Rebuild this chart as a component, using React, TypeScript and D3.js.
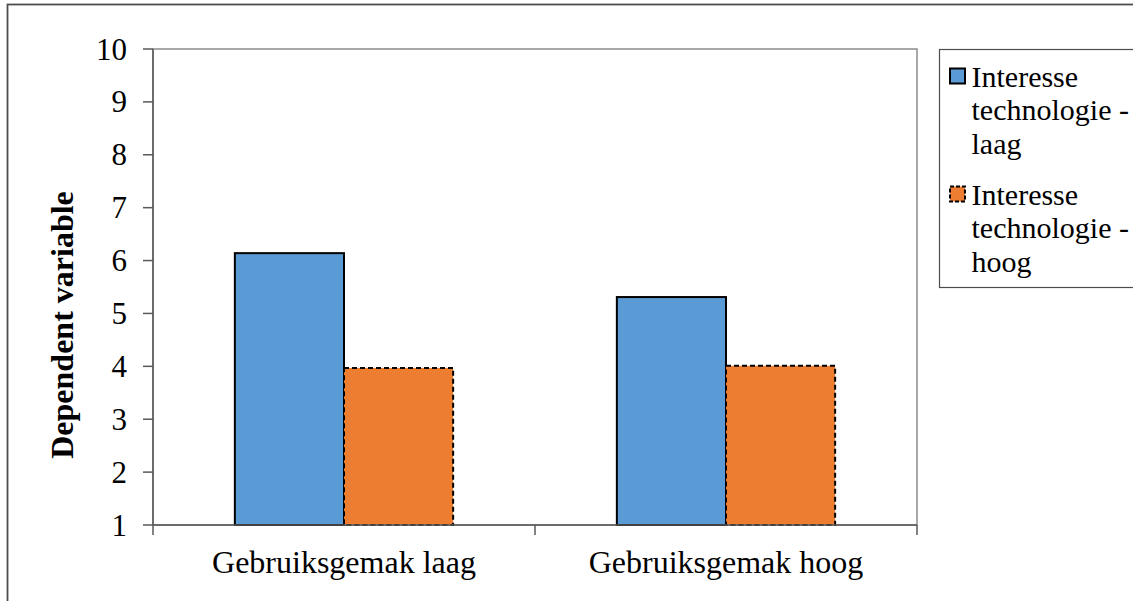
import React from "react";
import * as d3 from "d3";

const categories = ["Gebruiksgemak laag", "Gebruiksgemak hoog"];
const seriesNames = ["Interesse technologie - laag", "Interesse technologie - hoog"];
const legendLines = [
  ["Interesse", "technologie -", "laag"],
  ["Interesse", "technologie -", "hoog"],
];
const laagValues = [6.14, 5.31];
const hoogValues = [3.97, 4.01];
const yTicks = [1, 2, 3, 4, 5, 6, 7, 8, 9, 10];
const yTitle = "Dependent variable";

const colors = ["#5B9BD5", "#ED7D31"];
const FONT = "'Liberation Serif', 'Times New Roman', serif";

export default function App() {
  const W = 1133, H = 601;
  const left = 153, right = 917, top = 49, bottom = 525;
  const x = d3.scaleBand<string>().domain(categories).range([left, right]).paddingInner(0).paddingOuter(0);
  const y = d3.scaleLinear().domain([1, 10]).range([bottom, top]);
  const barW = x.bandwidth() / 3.5;
  const series = [laagValues, hoogValues];
  const ts = { fontFamily: FONT } as React.CSSProperties;

  return (
    <svg width={W} height={H} style={{ position: "absolute", left: 0, top: 0, background: "#fff", fontFamily: FONT }}>
      <rect x={0} y={0} width={W} height={H} fill="#fff" />
      <rect x={7.5} y={4.5} width={W + 20} height={H + 20} fill="none" stroke="#4d4d4d" strokeWidth={1.8} />
      <rect x={left} y={top} width={right - left} height={bottom - top} fill="none" stroke="#8c8c8c" strokeWidth={1.5} />
      {categories.map((c, ci) => {
        const cx = (x(c) as number) + x.bandwidth() / 2;
        return series.map((vals, si) => {
          const x0 = si === 0 ? cx - barW : cx;
          const yv = y(vals[ci]);
          return (
            <rect key={c + si} x={x0} y={yv} width={barW} height={bottom - yv}
              fill={colors[si]} stroke="#000" strokeWidth={2}
              strokeDasharray={si === 1 ? "5,3" : undefined} />
          );
        });
      })}
      <line x1={left} x2={left} y1={top} y2={bottom} stroke="#595959" strokeWidth={1.5} />
      {yTicks.map((t) => (
        <g key={t}>
          <line x1={left - 10} x2={left} y1={y(t)} y2={y(t)} stroke="#595959" strokeWidth={1.5} />
          <text style={ts} x={127} y={y(t)} dy="0.34em" textAnchor="end" fontSize={31} fill="#000">{t}</text>
        </g>
      ))}
      <line x1={left} x2={right} y1={bottom} y2={bottom} stroke="#595959" strokeWidth={1.5} />
      {[left, ...categories.map((c) => (x(c) as number) + x.bandwidth())].map((tx, i) => (
        <line key={i} x1={tx} x2={tx} y1={bottom} y2={bottom + 10} stroke="#595959" strokeWidth={1.5} />
      ))}
      {categories.map((c) => (
        <text style={ts} key={c} x={(x(c) as number) + x.bandwidth() / 2} y={573} textAnchor="middle" fontSize={32} fill="#000">{c}</text>
      ))}
      <text style={ts} transform={`translate(73,325) rotate(-90)`} textAnchor="middle" fontSize={32} fontWeight="bold" fill="#000">{yTitle}</text>
      <rect x={939.5} y={49.5} width={220} height={238} fill="#fff" stroke="#4d4d4d" strokeWidth={1.2} />
      {seriesNames.map((s, si) => {
        const base = 86.5 + si * 118;
        return (
          <g key={s}>
            <rect x={950} y={base - 18} width={15} height={15} fill={colors[si]} stroke="#000" strokeWidth={2}
              strokeDasharray={si === 1 ? "4,2" : undefined} />
            {legendLines[si].map((ln, li) => (
              <text style={ts} key={li} x={971.5} y={base + li * 33.8} fontSize={30} fill="#000">{ln}</text>
            ))}
          </g>
        );
      })}
    </svg>
  );
}
